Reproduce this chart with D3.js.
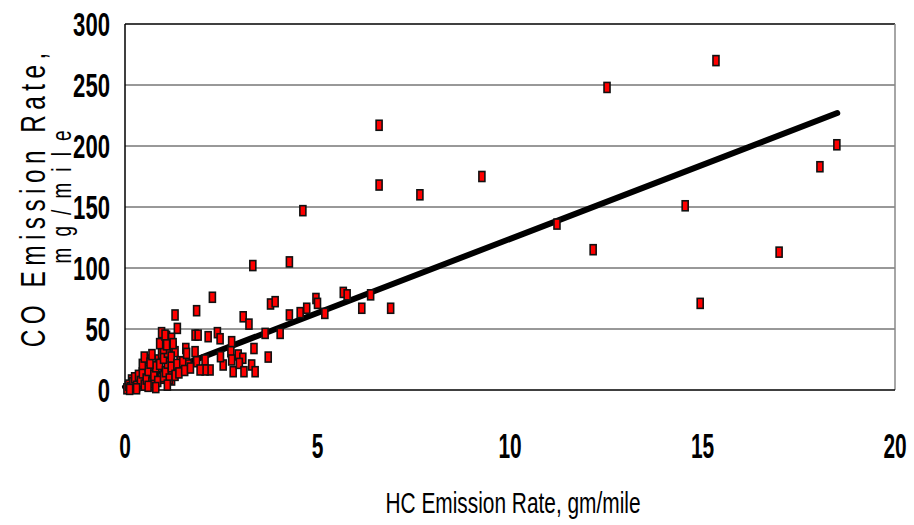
<!DOCTYPE html>
<html>
<head>
<meta charset="utf-8">
<script src="https://cdn.jsdelivr.net/npm/d3@7"></script>
<style>
  body { margin: 0; background: #fff; }
  svg { display: block; }
  text { font-family: "Liberation Sans Narrow", "Liberation Sans", Arial, sans-serif; }
</style>
</head>
<body>
<div class="container"></div>
<script>
// HC vs CO emission rates
var hcRate = [
  6.6, 6.6, 4.62, 7.66, 9.27, 11.22, 12.16, 12.52, 14.55, 14.94, 15.35, 16.99, 18.05, 18.49,
  3.32, 4.27, 3.07, 3.22, 3.78, 3.90, 3.64, 4.03, 4.27, 4.55, 4.72, 4.96, 5.0, 5.19, 5.67, 5.77, 6.15, 6.38, 6.90,
  3.35, 3.72, 2.94, 2.77, 3.06,
  2.27, 1.86, 1.30, 1.36, 0.95, 1.08, 1.21, 1.82, 1.90, 2.16, 2.40, 2.47, 2.75, 1.25, 1.30, 1.58, 1.82,
  2.08, 1.86, 2.21, 2.08, 1.95, 1.64, 1.43, 1.17, 0.95, 0.86, 0.56, 0.52, 0.65, 0.39, 0.17, 0.09, 1.21,
  2.55, 2.81, 2.97, 3.09, 3.29, 3.38, 2.77, 2.48,
  0.05, 0.1, 0.15, 0.2, 0.25, 0.3, 0.35, 0.4, 0.45, 0.5, 0.55, 0.6, 0.7, 0.75, 0.8, 0.85, 0.9, 1.0, 1.05,
  1.1, 1.15, 1.2, 1.3, 0.45, 0.5, 0.65, 0.7, 0.95, 1.0, 1.1, 1.2, 1.35, 1.4, 1.5, 1.55, 1.6, 1.7, 1.0,
  0.9, 1.25, 0.12, 0.3, 0.6, 0.8, 1.1, 1.04, 1.08
];
var coRate = [
  217, 168, 147, 160, 175, 136, 115, 248, 151, 71, 270, 113, 183, 201,
  102, 105, 60, 54, 70.5, 72.4, 46.4, 46.4, 61.5, 63.4, 67, 75, 71, 62.8, 80, 78, 67, 78, 67,
  34, 27, 28.7, 39.6, 26,
  76, 65, 61.5, 50.5, 47, 44, 42.4, 45, 45, 43.7, 47, 42, 31.4, 35.5, 31.4, 34, 31.4,
  24.6, 23.2, 16.4, 16.4, 16.4, 20.5, 23.2, 16.4, 9.6, 24.6, 24.6, 17.8, 9.6, 5.5, 8.2, 2.7, 8.2,
  20.5, 15, 21.8, 15, 20.5, 15, 24.6, 27.3,
  1, 4, 2, 6, 10, 3, 12, 7, 14, 4, 9, 16, 6, 12, 19, 7, 21, 11, 15,
  22, 9, 19, 12, 21, 27, 22, 29, 30, 26, 31, 27, 21, 14, 23, 16, 30, 18, 34,
  38, 38, 0.5, 1, 3, 2, 4, 45, 37
];

// fitted trend line end points
var fitX = [0, 18.5];
var fitY = [2.5, 227];

var xTicks = [0, 5, 10, 15, 20];
var yTicks = [0, 50, 100, 150, 200, 250, 300];
var xTitle = "HC Emission Rate, gm/mile";
var yTitle1 = "CO Emission Rate,";
var yTitle2 = "mg/mile";

var width = 914, height = 525;

var svg = d3.select(".container").append("svg")
  .attr("width", width)
  .attr("height", height);

var x = d3.scaleLinear().domain([0, 20]).range([125, 895]);
var y = d3.scaleLinear().domain([0, 300]).range([390, 24]);

// grid lines
svg.append("g").selectAll("line")
  .data(yTicks.filter(function (d) { return d > 0 && d < 300; }))
  .enter().append("line")
  .attr("x1", x(0)).attr("x2", x(20))
  .attr("y1", function (d) { return y(d); })
  .attr("y2", function (d) { return y(d); })
  .style("stroke", "#333")
  .style("stroke-width", 1);

// plot frame
svg.append("line").attr("x1", x(0)).attr("x2", x(20)).attr("y1", y(300)).attr("y2", y(300))
  .style("stroke", "#000").style("stroke-width", 1.5);
svg.append("line").attr("x1", x(20)).attr("x2", x(20)).attr("y1", y(300)).attr("y2", y(0))
  .style("stroke", "#888").style("stroke-width", 1.5);
svg.append("line").attr("x1", x(0)).attr("x2", x(20)).attr("y1", y(0)).attr("y2", y(0))
  .style("stroke", "#000").style("stroke-width", 1.5);
svg.append("line").attr("x1", x(0)).attr("x2", x(0)).attr("y1", y(300)).attr("y2", y(0))
  .style("stroke", "#000").style("stroke-width", 1.5);

// tick labels (squeezed to look like a narrow bold face)
svg.append("g").selectAll("text")
  .data(xTicks)
  .enter().append("text")
  .attr("transform", function (d) { return "translate(" + x(d) + ",458) scale(0.58,1)"; })
  .attr("text-anchor", "middle")
  .style("font-size", "36px")
  .style("font-weight", "bold")
  .text(function (d) { return d; });

svg.append("g").selectAll("text")
  .data(yTicks)
  .enter().append("text")
  .attr("transform", function (d) { return "translate(110," + (y(d) + 12) + ") scale(0.67,1)"; })
  .attr("text-anchor", "end")
  .style("font-size", "33px")
  .style("font-weight", "bold")
  .text(function (d) { return d; });

// axis titles
svg.append("text")
  .attr("transform", "translate(513,513) scale(0.72,1)")
  .attr("text-anchor", "middle")
  .style("font-size", "29px")
  .text(xTitle);

svg.append("text")
  .attr("transform", "translate(45,200) rotate(-90) scale(0.7,1)")
  .attr("text-anchor", "middle")
  .attr("textLength", 421)
  .attr("lengthAdjust", "spacing")
  .style("font-size", "35px")
  .text(yTitle1);

svg.append("text")
  .attr("transform", "translate(71,197) rotate(-90) scale(0.7,1)")
  .attr("text-anchor", "middle")
  .attr("textLength", 190)
  .attr("lengthAdjust", "spacing")
  .style("font-size", "27px")
  .text(yTitle2);

// trend line
svg.append("line")
  .attr("x1", x(fitX[0])).attr("y1", y(fitY[0]))
  .attr("x2", x(fitX[1])).attr("y2", y(fitY[1]))
  .style("stroke", "#000")
  .style("stroke-width", 6)
  .style("stroke-linecap", "round");

// points
svg.append("g").selectAll("rect")
  .data(hcRate)
  .enter().append("rect")
  .attr("x", function (d) { return x(d) - 3; })
  .attr("y", function (d, i) { return y(coRate[i]) - 5; })
  .attr("width", 6)
  .attr("height", 10)
  .style("fill", "#ff0000")
  .style("stroke", "#111")
  .style("stroke-width", 1.6);
</script>
</body>
</html>
